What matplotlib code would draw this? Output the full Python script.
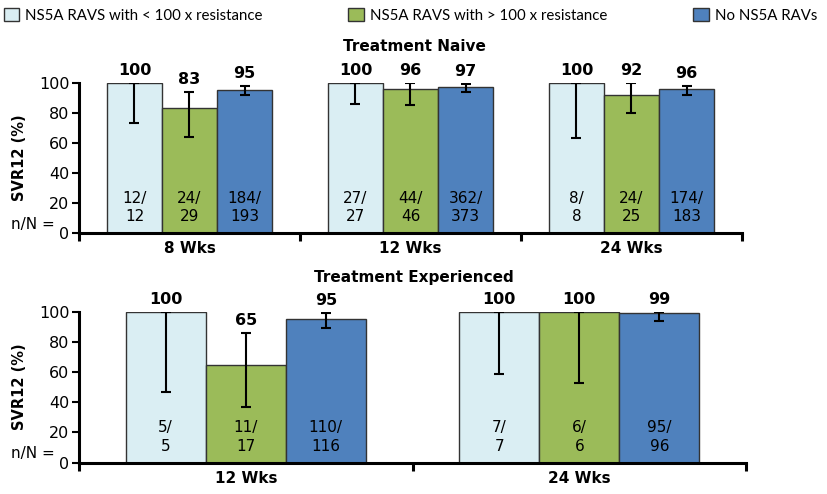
import matplotlib
matplotlib.use('Agg')
import matplotlib.pyplot as plt
import matplotlib.transforms as mtransforms
from matplotlib.patches import Patch
import numpy as np

plt.rcParams['font.family'] = ['DejaVu Sans']

series_names = ['NS5A RAVS with < 100 x resistance',
                'NS5A RAVS with > 100 x resistance',
                'No NS5A RAVs']
colors = ['#DAEEF3', '#9BBB59', '#4F81BD']

# Treatment naive: one row per series, one column per duration
naive_weeks = ['8 Wks', '12 Wks', '24 Wks']
naive_svr = [[100, 100, 100], [83, 96, 92], [95, 97, 96]]
naive_ci_lo = [[73, 86, 63], [64, 85, 80], [92, 94, 92]]
naive_ci_hi = [[100, 100, 100], [94, 100, 100], [98, 99, 98]]
naive_n = [[12, 27, 8], [24, 44, 24], [184, 362, 174]]
naive_N = [[12, 27, 8], [29, 46, 25], [193, 373, 183]]

# Treatment experienced
exp_weeks = ['12 Wks', '24 Wks']
exp_svr = [[100, 100], [65, 100], [95, 99]]
exp_ci_lo = [[47, 59], [37, 53], [89, 94]]
exp_ci_hi = [[100, 100], [86, 100], [99, 100]]
exp_n = [[5, 7], [11, 6], [110, 95]]
exp_N = [[5, 7], [17, 6], [116, 96]]


def draw_panel(ax, weeks, svr, lo, hi, n, N, width):
    groups = np.arange(len(weeks))
    for j in range(3):
        x = groups + (j - 1) * width
        v = np.array(svr[j])
        ax.bar(x, v, width, color=colors[j], edgecolor='#333333',
               linewidth=1, zorder=2)
        ax.errorbar(x, v, yerr=[v - np.array(lo[j]), np.array(hi[j]) - v],
                    fmt='none', ecolor='black', elinewidth=1.5,
                    capsize=3.5, capthick=1.5, zorder=3)
        for k in range(len(weeks)):
            ax.annotate(str(svr[j][k]), (x[k], hi[j][k]), xytext=(0, 9),
                        textcoords='offset points', ha='center', va='center',
                        fontsize=11.5, fontweight='bold', annotation_clip=False)
            ax.text(x[k], 17, f'{n[j][k]}/\n{N[j][k]}', ha='center',
                    va='center', fontsize=11, linespacing=1.3, zorder=4)

    ax.set_xlim(-0.5, len(weeks) - 0.5)
    ax.set_ylim(0, 100)
    ax.set_yticks(range(0, 101, 20))
    ax.tick_params(axis='y', labelsize=11.5, length=5, width=1.5, pad=2)

    ax.set_xticks(np.arange(len(weeks) + 1) - 0.5)
    ax.set_xticklabels([])
    ax.set_xticks(groups, minor=True)
    ax.set_xticklabels(weeks, minor=True, fontsize=11, fontweight='bold')
    ax.tick_params(axis='x', which='major', length=6, width=2.2)
    ax.tick_params(axis='x', which='minor', length=0, pad=6)

    for s in ['top', 'right']:
        ax.spines[s].set_visible(False)
    for s in ['left', 'bottom']:
        ax.spines[s].set_linewidth(2.2)

    ax.set_ylabel('SVR12 (%)', fontsize=10.5, fontweight='bold')
    ax.yaxis.set_label_coords(-0.078, 0.5)
    trans = mtransforms.blended_transform_factory(ax.transAxes, ax.transData)
    ax.text(-0.036, 6, 'n/N =', transform=trans, ha='right', va='center',
            fontsize=11)


fig = plt.figure(figsize=(8.28, 4.94), dpi=100)
ax1 = fig.add_axes([0.0954, 0.5283, 0.8007, 0.3043])
ax2 = fig.add_axes([0.0954, 0.0634, 0.8056, 0.3057])

draw_panel(ax1, naive_weeks, naive_svr, naive_ci_lo, naive_ci_hi,
           naive_n, naive_N, 0.249)
draw_panel(ax2, exp_weeks, exp_svr, exp_ci_lo, exp_ci_hi,
           exp_n, exp_N, 0.24)

fig.text(0.5, 0.905, 'Treatment Naive', ha='center', va='center',
         fontsize=11, fontweight='bold')
fig.text(0.5, 0.439, 'Treatment Experienced', ha='center', va='center',
         fontsize=11, fontweight='bold')

handles = [Patch(facecolor=c, edgecolor='#333333', linewidth=1) for c in colors]
fig.legend(handles, series_names, loc='upper left',
           bbox_to_anchor=(-0.012, 1.012), ncol=3, frameon=False,
           handlelength=1.05, handleheight=1.05, handletextpad=0.4,
           columnspacing=5.7, prop={'family': 'Lato', 'size': 10.8})

fig.savefig('out.png', dpi=100)
